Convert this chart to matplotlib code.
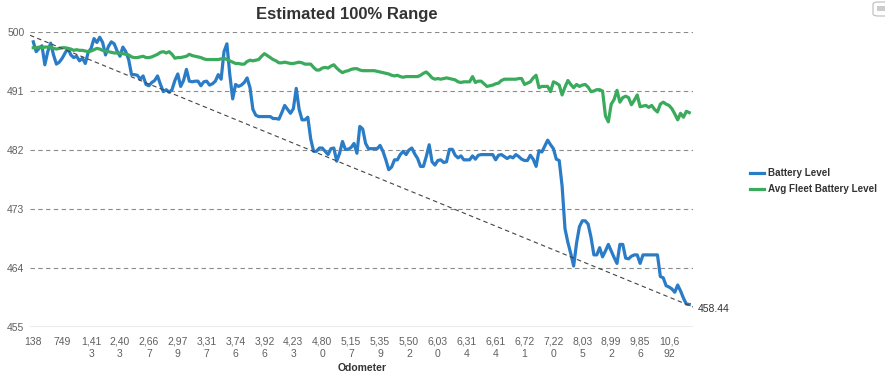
import matplotlib
matplotlib.use("Agg")
import matplotlib.pyplot as plt
from matplotlib.patches import FancyBboxPatch, Rectangle
import numpy as np

plt.rcParams['font.family'] = ['Liberation Sans', 'DejaVu Sans']

title = "Estimated 100% Range"
x_title = "Odometer"
series_names = ["Battery Level", "Avg Fleet Battery Level"]

odometer_labels = ["138", "749", "1,413", "2,403", "2,667", "2,979", "3,317", "3,746",
                   "3,926", "4,233", "4,800", "5,157", "5,359", "5,502", "6,030", "6,314",
                   "6,614", "6,721", "7,220", "8,035", "8,992", "9,856", "10,692"]
label_every = 10

y_ticks = [455, 464, 473, 482, 491, 500]

battery_level = [
    498.5, 497.0, 497.5, 497.9, 495.0, 497.0, 498.3, 496.5, 495.1, 495.4,
    496.0, 496.8, 497.5, 496.5, 496.1, 496.3, 495.6, 496.0, 495.2, 496.9,
    497.5, 499.0, 498.4, 499.2, 498.4, 496.5, 497.8, 498.5, 498.2, 497.1,
    496.3, 497.7, 497.0, 495.8, 493.5, 493.5, 493.4, 492.8, 493.3, 492.0,
    491.8, 492.3, 492.6, 493.3, 492.0, 490.9, 491.2, 490.8, 491.2, 492.6,
    493.6, 491.7, 492.6, 494.3, 492.5, 492.4, 492.5, 492.5, 491.8, 492.4,
    492.5, 491.9, 492.1, 492.5, 493.5, 492.8, 497.0, 498.2, 493.5, 489.8,
    492.0, 491.7, 491.9, 492.3, 493.0, 491.5, 488.2, 487.3, 487.1, 487.1,
    487.1, 487.1, 487.1, 486.8, 486.8, 486.7, 487.7, 488.8, 488.2, 487.6,
    488.3, 491.4, 488.2, 486.6, 486.6, 487.0, 483.7, 481.8, 481.8, 482.3,
    482.3, 481.8, 481.3, 482.2, 482.3, 480.3, 481.5, 483.3, 482.1, 482.1,
    482.4, 483.0, 481.5, 485.6, 485.2, 483.0, 482.2, 482.2, 482.2, 482.2,
    482.7, 481.8, 480.5, 479.0, 479.4, 480.5, 480.5, 481.3, 481.8, 481.3,
    482.0, 482.3, 481.4, 480.7, 479.5, 479.5, 481.0, 482.8, 480.2, 479.7,
    480.4, 480.5, 480.1, 480.2, 482.1, 482.1, 481.2, 480.8, 481.1, 480.5,
    480.5, 480.5, 481.1, 480.6, 481.2, 481.3, 481.3, 481.3, 481.3, 481.3,
    480.5, 481.2, 481.3, 481.0, 480.7, 481.0, 480.8, 481.3, 481.0, 480.6,
    480.4, 480.4, 481.2, 480.6, 479.5, 481.9, 481.7, 482.6, 483.5, 482.8,
    482.2, 480.6, 480.4, 476.5, 470.0, 467.9, 466.2, 464.3, 467.8, 470.3,
    471.2, 471.2, 470.7, 468.7, 466.0, 466.0, 467.1, 465.7, 466.6, 467.6,
    466.6, 465.6, 464.7, 467.6, 467.6, 465.5, 465.4, 465.8, 466.0, 466.0,
    464.7, 466.0, 466.0, 466.0, 466.0, 466.0, 466.0, 462.7, 462.5, 461.3,
    461.1, 460.8, 460.3, 461.4, 460.5, 459.4, 458.5, 458.44,
]

avg_fleet_level = [
    497.6, 497.6, 497.7, 497.6, 497.7, 497.7, 497.7, 497.5, 497.4, 497.5,
    497.6, 497.6, 497.5, 497.4, 497.2, 497.3, 497.2, 497.2, 497.1, 497.0,
    497.1, 497.3, 497.5, 497.4, 497.2, 497.1, 497.0, 496.9, 496.8, 496.8,
    496.8, 496.7, 496.6, 496.5, 496.2, 496.1, 496.1, 496.2, 496.3, 496.1,
    496.1, 496.2, 496.4, 496.6, 496.9, 497.0, 496.8, 497.0, 496.6, 496.0,
    496.1, 496.1, 496.2, 496.3, 496.6, 496.4, 496.3, 496.2, 496.1, 495.9,
    495.8, 495.8, 495.8, 495.8, 495.8, 495.9, 496.0, 495.8, 495.6, 495.4,
    495.2, 495.2, 495.1, 495.1, 495.5, 495.7, 495.6, 495.7, 495.8, 496.3,
    496.7, 496.4, 496.1, 495.8, 495.6, 495.3, 495.3, 495.4, 495.3, 495.2,
    495.2, 495.3, 495.4, 495.3, 495.1, 495.1, 495.1, 494.6, 494.2, 494.2,
    494.5, 494.6, 494.5, 494.8, 495.0, 494.5, 494.1, 493.8, 494.0, 494.1,
    494.3, 494.4, 494.4, 494.2, 494.1, 494.1, 494.1, 494.1, 494.1, 494.0,
    493.9, 493.8, 493.7, 493.6, 493.4, 493.3, 493.4, 493.2, 493.1, 493.2,
    493.2, 493.2, 493.2, 493.2, 493.4, 493.7, 493.9, 493.5, 493.0, 492.8,
    492.9, 492.8, 492.9, 493.0, 492.9, 492.8, 492.7, 492.4, 492.3, 492.4,
    492.4, 492.4, 493.2, 492.3, 492.5, 492.5, 492.1, 491.7, 491.8, 491.9,
    492.1, 492.2, 492.6, 492.8, 492.8, 492.8, 492.8, 492.8, 492.9, 492.9,
    492.0, 492.2, 492.4, 493.0, 493.4, 491.5, 491.7, 491.7, 491.7, 490.9,
    492.4, 492.2, 491.9, 490.4, 491.6, 492.6, 492.0, 491.5, 492.0, 491.7,
    491.9, 492.0, 491.6, 490.9, 491.0, 491.2, 491.2, 491.0, 487.2, 486.3,
    489.0, 489.7, 491.1, 489.3, 490.0, 490.2, 490.0, 488.9, 489.6, 490.4,
    488.6, 488.7, 488.8, 488.5, 488.8, 488.2, 487.8, 489.0, 489.3, 489.0,
    488.8, 488.3, 487.5, 486.6, 487.6, 487.0, 487.9, 487.7,
]

trend_start = 499.5
trend_end = 458.06

blue = '#2b7cc7'
green = '#3aaa5c'
text_dark = '#333333'
text_grey = '#606060'

fig = plt.figure(figsize=(8.85, 3.74), dpi=100)
ax = fig.add_axes([30 / 885, 1 - 327 / 374, (693 - 30) / 885, (327 - 32) / 374])

n = len(battery_level)
x = np.arange(n)
xmin, xmax = -1.14, n + 0.3
ax.set_xlim(xmin, xmax)
ax.set_ylim(455, 500)

# gridlines
for yv in y_ticks[1:]:
    ax.axhline(yv, color='#8c8c8c', lw=0.8, ls=(0, (4, 3)), zorder=1)
ax.axhline(455, color='#999999', lw=1.0, zorder=1)

ax.plot(x, battery_level, color=blue, lw=2.3, solid_joinstyle='round', zorder=3)
ax.plot(x, avg_fleet_level, color=green, lw=2.3, solid_joinstyle='round', zorder=4)
ax.plot([xmin, xmax], [trend_start, trend_end], color='#444444', lw=0.8,
        ls=(0, (4, 3)), zorder=5)

for s in ax.spines.values():
    s.set_visible(False)

ax.set_yticks(y_ticks)
ax.set_yticklabels([str(v) for v in y_ticks])
ax.tick_params(axis='y', length=0, pad=4, labelsize=7.5, labelcolor=text_grey)


def wrap(lbl, w=4):
    return lbl if len(lbl) <= w else lbl[:w] + "\n" + lbl[w:]


ax.set_xticks([i * label_every for i in range(len(odometer_labels))])
ax.set_xticklabels([wrap(l) for l in odometer_labels], linespacing=1.3)
ax.tick_params(axis='x', length=0, pad=7, labelsize=7.5, labelcolor=text_grey)
for t in ax.get_xticklabels():
    t.set_verticalalignment('top')

ax.annotate(f"{battery_level[-1]:.2f}", xy=(n - 1, battery_level[-1]),
            xytext=(6, -3), textcoords='offset points', fontsize=7.5,
            color=text_dark, va='center', ha='left', annotation_clip=False)

fig.text(347 / 885, 1 - 14 / 374, title, ha='center', va='center', fontsize=12,
         fontweight='bold', color=text_dark)
fig.text(362 / 885, 1 - 368 / 374, x_title, ha='center', va='center', fontsize=7.5,
         fontweight='bold', color=text_dark)

# legend
leg_items = [(series_names[0], blue, 173), (series_names[1], green, 189)]
for name, col, ypx in leg_items:
    yf = 1 - ypx / 374
    fig.add_artist(plt.Line2D([750 / 885, 764 / 885], [yf, yf], color=col, lw=2.3,
                              transform=fig.transFigure))
    fig.text(768 / 885, yf, name, ha='left', va='center', fontsize=7.1,
             fontweight='bold', color=text_dark)

# export button (partially visible at top-right)
btn = FancyBboxPatch((873 / 885, 1 - 16 / 374), 20 / 885, 14 / 374,
                     boxstyle="round,pad=0,rounding_size=0.006",
                     transform=fig.transFigure, facecolor='white',
                     edgecolor='#bbbbbb', lw=0.8)
fig.add_artist(btn)
fig.add_artist(Rectangle((877 / 885, 1 - 11 / 374), 8 / 885, 5 / 374,
                         transform=fig.transFigure, facecolor='#cccccc',
                         edgecolor='none'))

fig.savefig("out.png", dpi=100)
